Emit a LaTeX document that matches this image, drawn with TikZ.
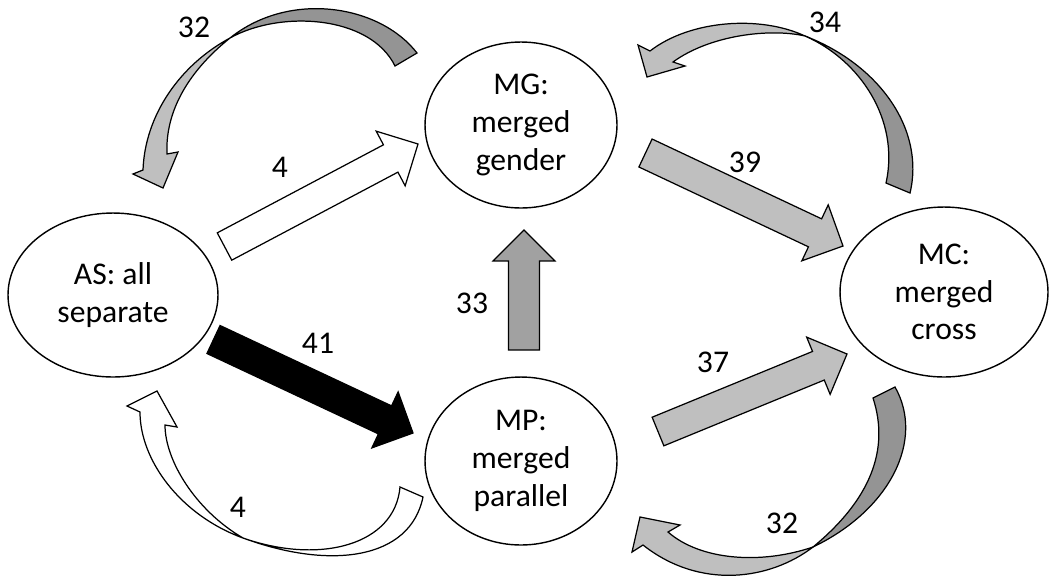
\documentclass[tikz,border=0pt]{standalone}
\usepackage{fontspec}
\setmainfont{Carlito}
\usetikzlibrary{shapes.geometric,calc}

\definecolor{flowlight}{gray}{0.75}
\definecolor{flowmid}{gray}{0.63}
\definecolor{flowback}{gray}{0.58}

% block arrow from #2 to #3, options #1
\newcommand{\blockarrow}[3][]{%
  \draw[flow,#1] ($(#2)!8.8pt!90:(#3)$) -- ($(#3)!17.6pt!(#2)!8.8pt!90:(#3)$)
    -- ($(#3)!17.6pt!(#2)!17.6pt!90:(#3)$) -- (#3)
    -- ($(#3)!17.6pt!(#2)!17.6pt!-90:(#3)$) -- ($(#3)!17.6pt!(#2)!8.8pt!-90:(#3)$)
    -- ($(#2)!8.8pt!-90:(#3)$) -- cycle;}

\tikzset{flow/.style={draw, line width=0.7pt, line join=miter}}

\begin{document}
\begin{tikzpicture}[x=0.02cm, y=-0.02cm, font=\fontsize{18}{21.5}\selectfont]
  \useasboundingbox (0,0) rectangle (1050,576);

  % States
  \begin{scope}[every node/.style={draw, shape=ellipse, line width=0.8pt, inner sep=0pt, align=center}]

    \node[minimum width=4.2cm, minimum height=3.28cm] (as) at (113,295) {AS: all\\separate};
    \node[minimum width=3.84cm, minimum height=3.32cm] (mg) at (521,125) {MG:\\merged\\gender};
    \node[minimum width=4.16cm, minimum height=3.4cm] (mc) at (944,292) {MC:\\merged\\cross};
    \node[minimum width=3.84cm, minimum height=3.36cm] (mp) at (521,461) {MP:\\merged\\parallel};

  \end{scope}

  % Straight
  \coordinate (as-mg-s) at (224.5,246.5);
  \coordinate (as-mg-e) at (418,144);
  \coordinate (as-mp-s) at (213.5,339.5);
  \coordinate (as-mp-e) at (413,433);
  \coordinate (mg-mc-s) at (645.5,153);
  \coordinate (mg-mc-e) at (843,246);
  \coordinate (mp-mc-s) at (658,431.5);
  \coordinate (mp-mc-e) at (847,354);
  \coordinate (mp-mg-s) at (524,350);
  \coordinate (mp-mg-e) at (524,230);

  \blockarrow[fill=white]{as-mg-s}{as-mg-e}
  \blockarrow[fill=black]{as-mp-s}{as-mp-e}
  \blockarrow[fill=flowlight]{mg-mc-s}{mg-mc-e}
  \blockarrow[fill=flowlight]{mp-mc-s}{mp-mc-e}
  \blockarrow[fill=flowmid]{mp-mg-s}{mp-mg-e}

  % Curved: mg -> as
  \draw[flow, fill=flowback] (417,53) .. controls (380,5) and (290,-10) .. (230,38)
    .. controls (280,10) and (370,15) .. (395,66) -- cycle;
  \draw[flow, fill=flowlight] (230,38) .. controls (180,65) and (145,115) .. (143,170)
    -- (133,174) -- (163,188) -- (178,152) -- (167,154)
    .. controls (165,110) and (190,70) .. (230,38) -- cycle;

  % Curved: mc -> mg
  \draw[flow, fill=flowback] (910,193) .. controls (925,130) and (880,65) .. (805,36)
    .. controls (860,60) and (900,120) .. (886,183) -- cycle;
  \draw[flow, fill=flowlight] (805,36) .. controls (760,15) and (690,20) .. (650,51)
    -- (638,45) -- (647,77) -- (685,66) -- (673,62)
    .. controls (710,35) and (770,28) .. (805,36) -- cycle;

  % Curved: mc -> mp
  \draw[flow, fill=flowback] (895,387) .. controls (925,440) and (890,510) .. (813,547)
    .. controls (870,500) and (890,450) .. (873,398) -- cycle;
  \draw[flow, fill=flowlight] (813,547) .. controls (770,580) and (700,590) .. (643,545)
    -- (632,552) -- (640,517) -- (680,525) -- (668,532)
    .. controls (700,560) and (760,565) .. (813,547) -- cycle;

  % Curved: mp -> as
  \draw[flow, fill=white] (423,497) .. controls (410,560) and (330,570) .. (243,538)
    .. controls (320,565) and (395,545) .. (400,487) -- cycle;
  \draw[flow, fill=white] (243,538) .. controls (180,515) and (140,460) .. (140,412)
    -- (127,406) -- (157,391) -- (177,427) -- (165,425)
    .. controls (165,460) and (195,510) .. (243,538) -- cycle;

  % Counts
  \node (n-mg-as) at (194,27) {32};
  \node (n-as-mg) at (280,167) {4};
  \node (n-mc-mg) at (825,22) {34};
  \node (n-mg-mc) at (745,162) {39};
  \node (n-mp-mg) at (472,303) {33};
  \node (n-as-mp) at (318,343) {41};
  \node (n-mp-mc) at (713,362) {37};
  \node (n-mp-as) at (238,507) {4};
  \node (n-mc-mp) at (782,523) {32};

\end{tikzpicture}
\end{document}
